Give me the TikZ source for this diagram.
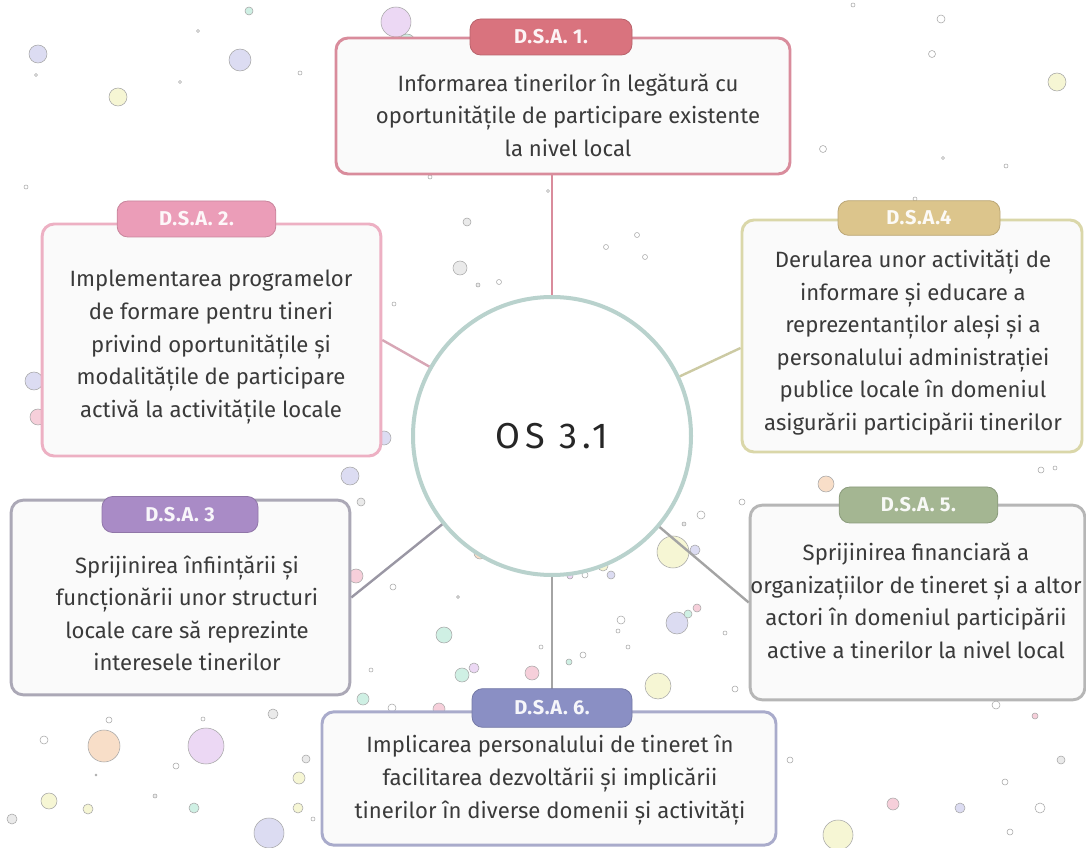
\documentclass[tikz,border=0pt]{standalone}
\usepackage{fontspec}
\setmainfont{Fira Sans}
\usetikzlibrary{calc}
\definecolor{txt}{HTML}{3A3A3A}
\definecolor{cLav}{HTML}{DCDCF2}
\definecolor{cYel}{HTML}{F6F6D4}
\definecolor{cMint}{HTML}{CFF0E4}
\definecolor{cPink}{HTML}{F6CFDA}
\definecolor{cLil}{HTML}{ECD8F4}
\definecolor{cPea}{HTML}{F8DEC8}
\definecolor{cGry}{HTML}{EAEAEA}
\definecolor{cWht}{HTML}{FFFFFF}
\definecolor{bOne}{HTML}{D98C9C}
\definecolor{bTwo}{HTML}{EDB0C3}
\definecolor{bThr}{HTML}{ABA8B6}
\definecolor{bFou}{HTML}{DAD7A9}
\definecolor{bFiv}{HTML}{B6B6B6}
\definecolor{bSix}{HTML}{A9ABCB}
\definecolor{tOne}{HTML}{D9737E}
\definecolor{tTwo}{HTML}{EB9DB8}
\definecolor{tThr}{HTML}{A98BC6}
\definecolor{tFou}{HTML}{DCC58C}
\definecolor{tFiv}{HTML}{A4B692}
\definecolor{tSix}{HTML}{8A8FC4}
\definecolor{ring}{HTML}{B9D2CD}
\tikzset{
  bub/.style={draw=black!35, line width=0.4pt, fill=#1},
  card/.style={draw=#1, line width=2.2pt, fill=black!2, rounded corners=9pt, inner sep=0pt},
  tab/.style={fill=#1, draw=#1!85!black, line width=0.6pt, rounded corners=8pt, inner sep=0pt,
    minimum height=27pt, text=white!92!#1, font=\fontsize{15}{16}\selectfont\bfseries\addfontfeature{LetterSpace=3}},
  body/.style={align=center, text=txt, font=\fontsize{16.6}{24.4}\selectfont, inner sep=0pt},
  link/.style={draw=#1, line width=1.8pt}
}
\begin{document}
\begin{tikzpicture}[x=0.75pt,y=-0.75pt]
\useasboundingbox (0,0) rectangle (1086,848);
\fill[white] (0,0) rectangle (1086,848);
% background bubbles
\foreach \x/\y/\r/\c in {
 38/54/9/cLav, 36/75/1.5/cWht, 118/97/9/cYel, 180/82/1.5/cWht, 198/31/1.5/cWht,
 240/60/11/cLav, 249/11/4/cMint, 300/73/2/cWht, 26/187/2/cWht,
 396/22/15/cLil, 407/42/8/cMint,
 853/5/2/cWht, 941/19/4/cWht, 932/54/3.5/cWht, 1057/82/9/cYel, 823/149/3.5/cWht,
 943/158/1.5/cWht, 1006/166/2/cWht, 915/199/2/cWht,
 430/177/2/cWht, 548/191/1.5/cWht, 467/222/4/cGry, 460/268/7/cGry, 478/285/2/cGry,
 499/282/2.5/cWht, 606/247/2.5/cWht, 637/235/2.5/cWht, 645/257/2.5/cWht, 394/304/2/cWht,
 34/381/9/cLav, 38/417/8/cPink, 384/438/7/cLav, 418/440/6/cYel, 350/476/9/cLav,
 361/502/4/cGry, 356/576/7/cPink, 393/587/3/cWht, 458/597/1.5/cGry, 444/635/8/cMint,
 462/675/7/cMint, 474/668/5/cLil, 532/673/7/cPink, 541/647/2/cWht, 363/699/6/cMint,
 392/708/4/cWht, 439/709/6/cPink, 371/670/2/cWht,
 673/552/16/cYel, 695/550/5/cLav, 701/515/4/cWht, 742/502/3/cWht, 684/524/2/cGry,
 570/576/3/cLil, 585/575/3/cWht, 611/575/4/cLav, 603/566/5/cYel, 480/553/6/cPea,
 621/620/4/cWht, 618/631/2/cWht, 628/647/2/cWht, 677/623/11/cLav, 688/614/4/cMint,
 697/608/4/cPink, 583/655/3/cWht, 569/662/3/cMint, 658/686/13/cYel, 725/633/2/cWht,
 735/689/3/cWht, 826/484/8/cPea, 1041/470/3/cWht, 1055/468/2/cWht,
 44/740/4/cWht, 104/746/16/cPea, 109/720/3/cWht, 206/746/18/cLil, 203/719/2/cWht,
 176/766/3/cWht, 49/801/8/cYel, 88/809/5/cYel, 12/819/5/cGry, 155/796/2/cGry,
 194/808/5/cMint, 273/714/5/cGry, 306/759/4/cGry, 299/778/6/cYel, 298/808/5/cYel,
 269/833/15/cLav, 313/819/2/cWht, 96/775/1/cGry,
 838/835/15/cYel, 893/804/6/cPink, 960/808/5/cLav, 1005/782/3/cWht, 996/705/4/cWht,
 1035/716/3/cPink, 1061/760/4/cGry, 1010/832/3/cWht, 790/760/3/cWht, 1040/808/5/cWht}
 { \draw[bub=\c] (\x,\y) circle[radius=\r]; }

% central circle
\node[circle, draw=ring, line width=3pt, fill=white, minimum size=208.5pt, inner sep=0pt,
  font=\fontsize{27}{30}\selectfont, text=black!85] (os) at (552,436)
  {\addfontfeature{LetterSpace=14}OS 3.1};

% cards
\node[card=bOne, minimum width=340.5pt, minimum height=102pt] (b1) at (563,106) {};
\node[card=bTwo, minimum width=254pt, minimum height=174pt] (b2) at (211.5,340) {};
\node[card=bFou, minimum width=255pt, minimum height=174pt] (b4) at (912,336) {};
\node[card=bThr, minimum width=254pt, minimum height=146pt] (b3) at (180.5,597.5) {};
\node[card=bFiv, minimum width=251pt, minimum height=146pt] (b5) at (917.5,602.5) {};
\node[card=bSix, minimum width=340.5pt, minimum height=100pt] (b6) at (549,778.5) {};

% connectors
\draw[link=bOne] (os.north) -- (os.north |- b1.south);
\draw[link=bTwo!80!gray] (b2.east) -- (os);
\draw[link=bFou!85!gray] ($(b4.west)+(0,12)$) -- (os);
\draw[link=bThr!90!black] (b3.east) -- (os);
\draw[link=bFiv!90!black] (b5.west) -- (os);
\draw[link=bFiv!90!black] (os.south) -- (os.south |- b6.north);

% tabs
\node[tab=tOne, minimum width=121.5pt] (t1) at (551,37) {D.S.A. 1.};
\node[tab=tTwo, minimum width=119pt] (t2) at (196.5,219) {D.S.A. 2.};
\node[tab=tFou, minimum width=121.5pt, minimum height=26pt] (t4) at (919,218) {D.S.A.4};
\node[tab=tThr, minimum width=117pt] (t3) at (180,514.5) {D.S.A. 3};
\node[tab=tFiv, minimum width=119pt] (t5) at (918.5,505) {D.S.A. 5.};
\node[tab=tSix, minimum width=120pt, minimum height=29pt] (t6) at (552,708) {D.S.A. 6.};

% texts
\node[body] (x1) at (568,115) {Informarea tinerilor în legătură cu\\oportunitățile de participare existente\\la nivel local};
\node[body] (x2) at (211,347) {Implementarea programelor\\de formare pentru tineri\\privind oportunitățile și\\modalitățile de participare\\activă la activitățile locale};
\node[body] (x4) at (913,342.5) {Derularea unor activități de\\informare și educare a\\reprezentanților aleși și a\\personalului administrației\\publice locale în domeniul\\asigurării participării tinerilor};
\node[body] (x3) at (187,613.5) {Sprijinirea înființării și\\funcționării unor structuri\\locale care să reprezinte\\interesele tinerilor};
\node[body] (x5) at (916,601) {Sprijinirea financiară a\\organizațiilor de tineret și a altor\\actori în domeniul participării\\active a tinerilor la nivel local};
\node[body] (x6) at (550,780) {Implicarea personalului de tineret în\\facilitarea dezvoltării și implicării\\tinerilor în diverse domenii și activități};
\end{tikzpicture}
\end{document}
